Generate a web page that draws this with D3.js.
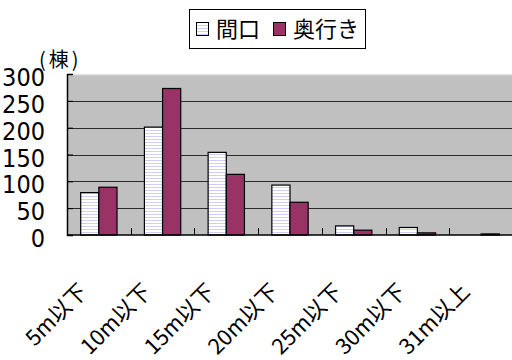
<!DOCTYPE html>
<html>
<head>
<meta charset="utf-8">
<script src="https://cdn.jsdelivr.net/npm/d3@7"></script>
<style>
  html, body { margin: 0; padding: 0; background: #fff; overflow: hidden; }
  svg { display: block; }
  .num { font-family: "Liberation Sans Narrow", "DejaVu Sans Condensed", "Liberation Sans", sans-serif; }
  .cjk { font-family: "Liberation Sans Narrow", "Noto Sans CJK JP", sans-serif; }
</style>
</head>
<body>
<svg id="chart" width="512" height="360"></svg>
<script>
// Building counts by frontage width (間口) and depth (奥行き)
const categories = ["5m以下", "10m以下", "15m以下", "20m以下", "25m以下", "30m以下", "31m以上"];
const seriesNames = ["間口", "奥行き"];
const frontage = [79, 201, 154, 93, 17, 14, 0];
const depth = [89, 273, 113, 61, 9, 4, 2];
const yTicks = [0, 50, 100, 150, 200, 250, 300];
const unitLabel = "(棟)";

const colors = { frontage: "url(#stripes)", depth: "#993366" };

const svg = d3.select("#chart");

// hatched fill for the frontage series
const defs = svg.append("defs");
const pat = defs.append("pattern")
  .attr("id", "stripes")
  .attr("patternUnits", "userSpaceOnUse")
  .attr("width", 4).attr("height", 3);
pat.append("rect").attr("width", 4).attr("height", 3).attr("fill", "#ffffff");
pat.append("rect").attr("y", 1).attr("width", 4).attr("height", 1).attr("fill", "#cfcff5");

const plot = { left: 67, top: 74, right: 513, bottom: 235 };

const x = d3.scaleBand().domain(categories).range([plot.left, plot.right]).padding(0);
const y = d3.scaleLinear().domain([0, 300]).range([plot.bottom, plot.top]);
const inner = d3.scaleBand().domain(seriesNames)
  .range([x.bandwidth() * 0.215, x.bandwidth() * 0.785]).padding(0);

// plot background
svg.append("rect")
  .attr("x", plot.left).attr("y", plot.top)
  .attr("width", plot.right - plot.left).attr("height", plot.bottom - plot.top)
  .attr("fill", "#c0c0c0");

// top border
svg.append("line")
  .attr("x1", plot.left).attr("x2", plot.right)
  .attr("y1", plot.top + 0.5).attr("y2", plot.top + 0.5)
  .attr("stroke", "#e4e4e4").attr("stroke-width", 1.5);

// gridlines
svg.append("g").selectAll("line")
  .data(yTicks.filter(t => t > 0 && t < 300))
  .join("line")
  .attr("x1", plot.left).attr("x2", plot.right)
  .attr("y1", d => Math.round(y(d)) + 0.5).attr("y2", d => Math.round(y(d)) + 0.5)
  .attr("stroke", "#2a2a2a").attr("stroke-width", 1);

// bars
const rows = categories.map((c, i) => ({ cat: c, values: [frontage[i], depth[i]] }));
const groups = svg.append("g").selectAll("g")
  .data(rows).join("g")
  .attr("transform", d => `translate(${x(d.cat)},0)`);

groups.selectAll("rect")
  .data(d => d.values.map((v, j) => ({ name: seriesNames[j], v })))
  .join("rect")
  .attr("x", d => inner(d.name))
  .attr("y", d => y(d.v))
  .attr("width", inner.bandwidth())
  .attr("height", d => y(0) - y(d.v))
  .attr("fill", d => d.name === "間口" ? colors.frontage : colors.depth)
  .attr("stroke", "#000").attr("stroke-width", 1.2)
  .attr("display", d => d.v > 0 ? null : "none");

// y axis (ticks pointing inward, labels placed separately)
const yAxis = svg.append("g")
  .attr("transform", `translate(${plot.left},0)`)
  .call(d3.axisRight(y).tickValues(yTicks).tickSize(6).tickFormat(""));
yAxis.select(".domain").attr("stroke", "#000").attr("stroke-width", 1.5);
yAxis.selectAll(".tick line").attr("stroke", "#000");

svg.append("g").selectAll("text")
  .data(yTicks).join("text")
  .attr("class", "num")
  .attr("x", 45)
  .attr("y", d => y(d) + 3)
  .attr("dy", "0.36em")
  .attr("text-anchor", "end")
  .attr("font-size", 25)
  .attr("fill", "#000")
  .text(d => d);

svg.append("text")
  .attr("class", "cjk")
  .attr("x", 39).attr("y", 67)
  .attr("font-size", 20)
  .attr("letter-spacing", 3)
  .attr("fill", "#000")
  .text(unitLabel);

// x axis: ticks at category boundaries pointing up
const xAxis = svg.append("g")
  .attr("transform", `translate(0,${plot.bottom})`);
xAxis.append("line")
  .attr("x1", plot.left).attr("x2", plot.right)
  .attr("stroke", "#000").attr("stroke-width", 1.5);
xAxis.selectAll("line.tk")
  .data(categories.slice(1))
  .join("line").attr("class", "tk")
  .attr("x1", d => Math.round(x(d)) + 0.5).attr("x2", d => Math.round(x(d)) + 0.5)
  .attr("y1", 0).attr("y2", -7)
  .attr("stroke", "#000");

svg.append("g").selectAll("text")
  .data(categories).join("text")
  .attr("class", "cjk")
  .attr("font-size", 22)
  .attr("text-anchor", "end")
  .attr("fill", "#000")
  .attr("transform", d => `translate(${x(d) + x.bandwidth() / 2 - 10},293) rotate(-45)`)
  .text(d => d);

// legend
const lg = svg.append("g");
lg.append("rect")
  .attr("x", 189.5).attr("y", 9.5).attr("width", 176).attr("height", 39)
  .attr("fill", "#fff").attr("stroke", "#000").attr("stroke-width", 1);
const legendItems = [
  { name: seriesNames[0], fill: colors.frontage, sx: 196, tx: 216 },
  { name: seriesNames[1], fill: colors.depth, sx: 273, tx: 293 }
];
legendItems.forEach(it => {
  lg.append("rect")
    .attr("x", it.sx + 0.5).attr("y", 22.5).attr("width", 12).attr("height", 13)
    .attr("fill", it.fill).attr("stroke", "#000").attr("stroke-width", 1);
  lg.append("text")
    .attr("class", "cjk")
    .attr("x", it.tx).attr("y", 37)
    .attr("font-size", 22)
    .attr("fill", "#000")
    .text(it.name);
});
</script>
</body>
</html>
